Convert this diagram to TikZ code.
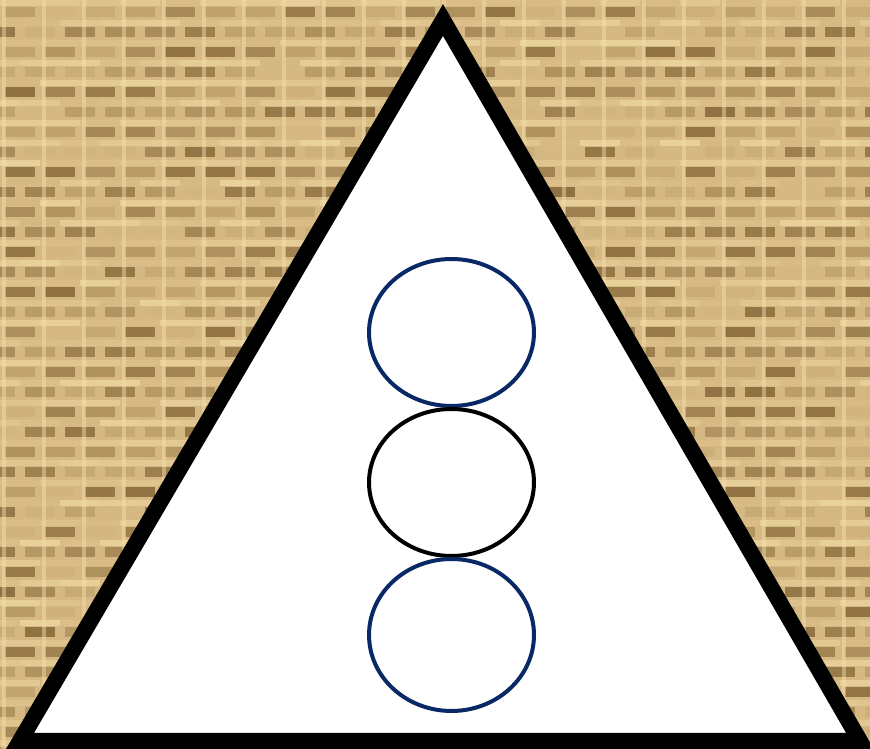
\documentclass[tikz,border=0pt]{standalone}
\usepackage{tikz}
\usetikzlibrary{shapes.geometric}
\definecolor{burlapbase}{RGB}{214,184,130}
\definecolor{burlaplight}{RGB}{246,226,172}
\definecolor{burlapdark}{RGB}{104,74,30}
\definecolor{ringblue}{RGB}{8,40,102}

\begin{document}
\begin{tikzpicture}[x=0.02cm, y=-0.02cm]
        \useasboundingbox (0,0) rectangle (870,749);
        \clip (0,0) rectangle (870,749);
        % woven background
        \fill[burlapbase] (0,0) rectangle (870,749);
        \pgfmathsetseed{11}
        \foreach \r in {0,...,37} {
            \foreach \c in {-1,...,22} {
                \pgfmathsetmacro{\sh}{rnd*80}
                \pgfmathsetmacro{\lt}{rnd*60}
                \pgfmathsetmacro{\dx}{mod(\r,2)*20}
                \fill[burlaplight!\lt!burlapbase] (\c*40+\dx, \r*20) rectangle ++(40,6);
                \fill[burlapdark!\sh!burlapbase, opacity=0.8] (\c*40+\dx+5, \r*20+7) rectangle ++(30,10);
            }
        }
        \foreach \c in {0,...,22} {
            \fill[burlaplight, opacity=0.45] (\c*40+2, 0) rectangle ++(4,749);
        }
        
        % triangle
        \draw[black, line width=0.32cm, fill=white, line join=miter] (443,20) -- (860,741) -- (20,741) -- cycle;
        
        % rings
        \node[ellipse, draw=ringblue, line width=0.08cm, minimum width=3.3cm, minimum height=2.94cm] (ring-top) at (451.5,332.5) {};
        \node[ellipse, draw=black, line width=0.08cm, minimum width=3.3cm, minimum height=2.94cm] (ring-mid) at (451.5,482.5) {};
        \node[ellipse, draw=ringblue, line width=0.08cm, minimum width=3.3cm, minimum height=3.04cm] (ring-bot) at (451.5,635) {};
        
    \end{tikzpicture}
\end{document}
